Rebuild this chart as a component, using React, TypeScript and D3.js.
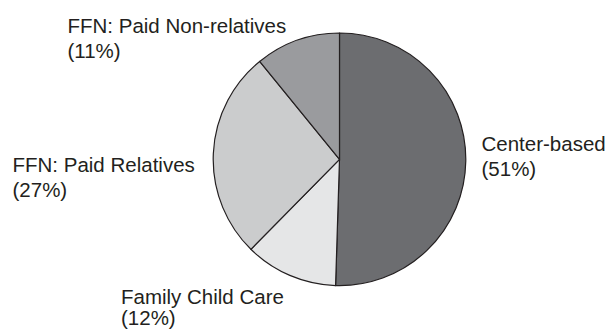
import React from "react";
import * as d3 from "d3";

const categories = ["Center-based", "Family Child Care", "FFN: Paid Relatives", "FFN: Paid Non-relatives"];
const values = [51, 12, 27, 11];
const percentLabels = ["(51%)", "(12%)", "(27%)", "(11%)"];
const colors = ["#6c6d70", "#e5e6e7", "#cbcccd", "#9a9b9e"];

// label layout (x, first baseline, line gap)
const labelLayout = [
  { x: 481.5, y: 150.5, gap: 25 },
  { x: 121, y: 303.5, gap: 21 },
  { x: 12.5, y: 171.7, gap: 25 },
  { x: 67.5, y: 33.3, gap: 25 },
];

const W = 613;
const H = 331;
const cx = 339.5;
const cy = 159.3;
const R = 126.3;

export default function App() {
  const pie = d3.pie<number>().sort(null).value((d) => d)(values);
  const arc = d3.arc<d3.PieArcDatum<number>>().innerRadius(0).outerRadius(R);
  return (
    <svg
      width={W}
      height={H}
      style={{ position: "absolute", left: 0, top: 0, background: "#fff" }}
      fontFamily="'Liberation Sans', Arial, Helvetica, sans-serif"
    >
      <g transform={`translate(${cx},${cy})`}>
        {pie.map((p, i) => (
          <path key={i} d={arc(p) || ""} fill={colors[i]} stroke="#231f20" strokeWidth={1.2} strokeLinejoin="round" />
        ))}
      </g>
      {categories.map((c, i) => (
        <text key={c} x={labelLayout[i].x} y={labelLayout[i].y} fontSize={20.5} fill="#231f20">
          <tspan x={labelLayout[i].x}>{c}</tspan>
          <tspan x={labelLayout[i].x} dy={labelLayout[i].gap}>{percentLabels[i]}</tspan>
        </text>
      ))}
    </svg>
  );
}
